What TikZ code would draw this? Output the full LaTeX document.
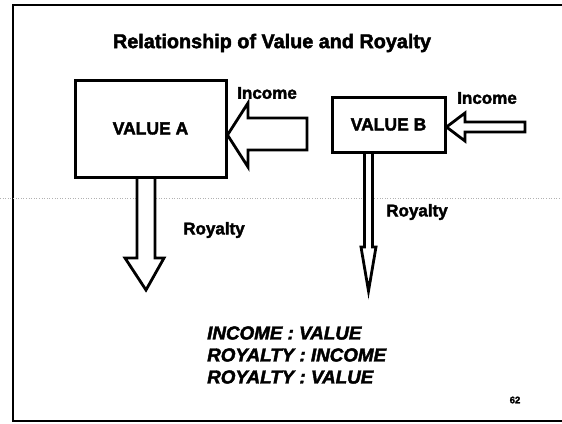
\documentclass[tikz,border=0pt]{standalone}
\usepackage{fontspec}
\setmainfont[BoldFeatures={FakeBold=2.2},BoldItalicFeatures={FakeBold=2.2}]{Liberation Sans}
\begin{document}
\begin{tikzpicture}[x=1pt,y=-1pt,
  frameline/.style={line width=2.4pt},
  valbox/.style={draw,line width=3pt,inner sep=0pt,font=\bfseries\fontsize{17.5}{18}\selectfont},
  blockarrow/.style={draw,line width=2.8pt,line join=miter,fill=white},
  lbl/.style={font=\bfseries\fontsize{17}{18}\selectfont,inner sep=0pt},
  ratio/.style={font=\bfseries\itshape\fontsize{18.8}{22}\selectfont,inner sep=0pt,align=left,anchor=west},
  scanline/.style={gray!60,line width=0.6pt,dotted}]
\useasboundingbox (0,0) rectangle (562,423);
% frame
\draw[frameline] (570,5) -- (13,5) -- (13,421) -- (570,421);
\draw[scanline] (0,198) -- (562,198);
% title
\node[lbl,font=\bfseries\fontsize{19.8}{20}\selectfont] (title) at (272,43) {Relationship of Value and Royalty};
% boxes
\node[valbox,minimum width=151pt,minimum height=97pt] (A) at (150.5,128.5) {};
\node[valbox,minimum width=113pt,minimum height=55pt] (B) at (388.5,124.5) {};
% income arrows
\draw[blockarrow] (A.east |- 0,135) -- (248,103) -- (248,118) -- (307,118) -- (307,150) -- (248,150) -- (248,167) -- cycle;
\draw[blockarrow] (B.east |- 0,127) -- (465,113) -- (465,122) -- (525,122) -- (525,132) -- (465,132) -- (465,141) -- cycle;
% royalty arrows
\draw[blockarrow] (137,177) -- (137,258) -- (125,258) -- (146,290) -- (164,258) -- (155,258) -- (155,177);
\draw[blockarrow,line width=2.8pt] (364.5,152) -- (364.5,247) -- (361,247) -- (368.5,291) -- (376,247) -- (372.5,247) -- (372.5,152);
\node[valbox,minimum width=151pt,minimum height=97pt] at (A) {VALUE A};
\node[valbox,minimum width=113pt,minimum height=55pt] at (B) {VALUE B};
% labels
\node[lbl] (incA) at (267,93) {Income};
\node[lbl] (incB) at (487,98) {Income};
\node[lbl] (royA) at (214,230) {Royalty};
\node[lbl] (royB) at (417,212) {Royalty};
% ratios
\node[ratio] (r1) at (207,333) {INCOME : VALUE};
\node[ratio] (r2) at (207,355) {ROYALTY : INCOME};
\node[ratio] (r3) at (207,377) {ROYALTY : VALUE};
\node[font=\bfseries\fontsize{9.5}{10}\selectfont,inner sep=0pt] (pg) at (515,400) {62};
\end{tikzpicture}
\end{document}
